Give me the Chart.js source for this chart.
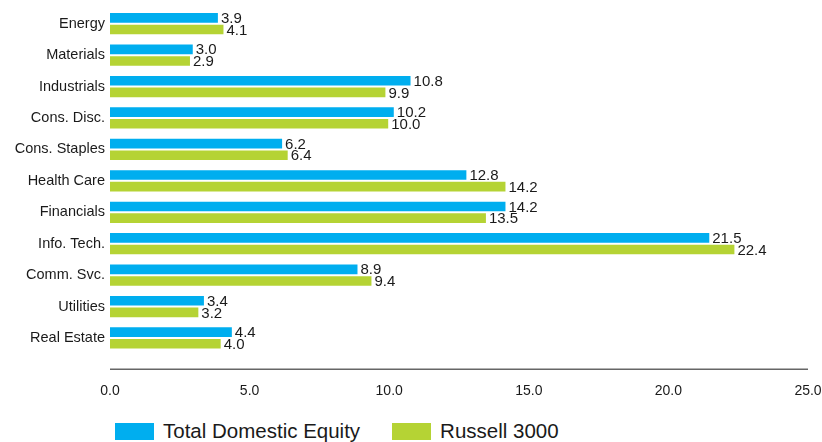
<!DOCTYPE html>
<html>
<head>
<meta charset="utf-8">
<script src="https://cdn.jsdelivr.net/npm/chart.js@4"></script>
<style>
  html, body { margin: 0; padding: 0; background: #fff; }
  #wrap { position: relative; width: 822px; height: 442px; font-family: "Liberation Sans", Arial, sans-serif; }
  #chartBox { position: absolute; left: 0; top: 0; width: 822px; height: 400px; }
  #legend { position: absolute; left: 115px; top: 419px; display: flex; align-items: center; font-size: 20.5px; color: #1a1a1a; }
  .item { display: flex; align-items: center; margin-right: 32px; }
  .swatch { width: 39px; height: 17px; margin-right: 9px; }
</style>
</head>
<body>
<div id="wrap">
  <div id="chartBox"><canvas id="sectorChart"></canvas></div>
  <div id="legend"></div>
</div>
<script>
// Sector weights (%)
const sectors = ['Energy', 'Materials', 'Industrials', 'Cons. Disc.', 'Cons. Staples', 'Health Care',
                 'Financials', 'Info. Tech.', 'Comm. Svc.', 'Utilities', 'Real Estate'];
const totalDomestic = [3.9, 3.0, 10.8, 10.2, 6.2, 12.8, 14.2, 21.5, 8.9, 3.4, 4.4];
const russell3000 = [4.1, 2.9, 9.9, 10.0, 6.4, 14.2, 13.5, 22.4, 9.4, 3.2, 4.0];
const seriesNames = ['Total Domestic Equity', 'Russell 3000'];
const seriesColors = ['#00AEEF', '#B5D334'];
const xTicks = [0, 5, 10, 15, 20, 25];

const FONT = '"Liberation Sans", Arial, sans-serif';

// value labels at the end of each bar
const barLabels = {
    id: 'barLabels',
    afterDatasetsDraw(chart) {
        const ctx = chart.ctx;
        ctx.save();
        ctx.font = '15px ' + FONT;
        ctx.fillStyle = '#1a1a1a';
        ctx.textAlign = 'left';
        ctx.textBaseline = 'middle';
        chart.data.datasets.forEach((ds, i) => {
            chart.getDatasetMeta(i).data.forEach((bar, j) => {
                ctx.fillText(ds.data[j].toFixed(1), bar.x + 2, bar.y + 1);
            });
        });
        ctx.restore();
    }
};

// axis line sits a bit below the last category
const baseLine = {
    id: 'baseLine',
    afterDraw(chart) {
        const { ctx, chartArea } = chart;
        const y = chartArea.bottom + 15.5;
        ctx.save();
        ctx.strokeStyle = '#666';
        ctx.lineWidth = 1.5;
        ctx.beginPath();
        ctx.moveTo(chartArea.left, y);
        ctx.lineTo(chartArea.right, y);
        ctx.stroke();
        ctx.restore();
    }
};

new Chart(document.getElementById('sectorChart'), {
    type: 'bar',
    data: {
        labels: sectors,
        datasets: [{
            label: seriesNames[0],
            data: totalDomestic,
            backgroundColor: seriesColors[0],
            borderColor: '#fff',
            borderWidth: 1,
            categoryPercentage: 0.74,
            barPercentage: 1
        }, {
            label: seriesNames[1],
            data: russell3000,
            backgroundColor: seriesColors[1],
            borderColor: '#fff',
            borderWidth: 1,
            categoryPercentage: 0.74,
            barPercentage: 1
        }]
    },
    options: {
        indexAxis: 'y',
        responsive: true,
        maintainAspectRatio: false,
        animation: false,
        layout: { padding: { top: 8, right: 14, bottom: 0, left: 0 } },
        plugins: {
            legend: { display: false },
            tooltip: { enabled: false }
        },
        scales: {
            x: {
                min: 0,
                max: 25,
                afterBuildTicks: (scale) => { scale.ticks = xTicks.map(v => ({ value: v })); },
                afterFit: (scale) => { scale.height = 46.3; scale.paddingLeft = 0; scale.paddingRight = 0; },
                grid: { display: false, drawTicks: false },
                border: { display: false },
                ticks: {
                    padding: 29,
                    maxRotation: 0,
                    color: '#1a1a1a',
                    font: { family: FONT, size: 14 },
                    callback: (v) => Number(v).toFixed(1)
                }
            },
            y: {
                afterFit: (scale) => { scale.width = 110; scale.paddingTop = 0; scale.paddingBottom = 0; },
                grid: { display: false, drawTicks: false },
                border: { display: false },
                ticks: {
                    padding: 5,
                    color: '#1a1a1a',
                    font: { family: FONT, size: 14.5 }
                }
            }
        }
    },
    plugins: [barLabels, baseLine]
});

// legend in HTML below the chart
const legendEl = document.getElementById('legend');
seriesNames.forEach((name, i) => {
    const item = document.createElement('div');
    item.className = 'item';
    item.innerHTML = '<span class="swatch" style="background:' + seriesColors[i] + '"></span><span>' + name + '</span>';
    legendEl.appendChild(item);
});
</script>
</body>
</html>
